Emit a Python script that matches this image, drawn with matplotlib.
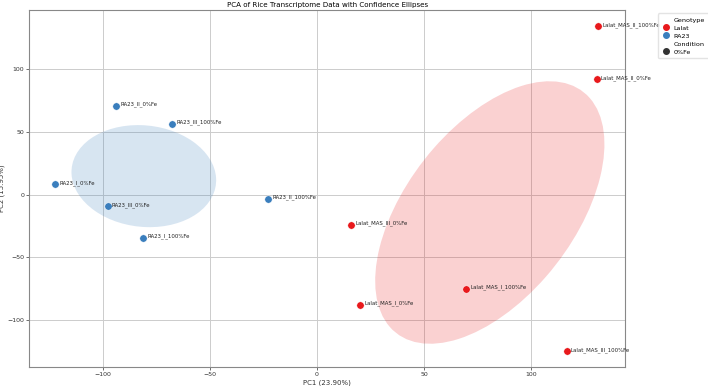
import matplotlib
matplotlib.use("Agg")
import matplotlib.pyplot as plt
import matplotlib.transforms as transforms
from matplotlib.lines import Line2D
from matplotlib.patches import Ellipse
import numpy as np

# PCA scores
SAMPLES = [
    "RA23_II_0%Fe", "RA23_III_100%Fe", "RA23_I_0%Fe",
    "RA23_II_100%Fe", "RA23_III_0%Fe", "RA23_I_100%Fe",
    "Lalat_MAS_III_0%Fe", "Lalat_MAS_I_100%Fe", "Lalat_MAS_I_0%Fe",
    "Lalat_MAS_III_100%Fe", "Lalat_MAS_II_100%Fe", "Lalat_MAS_II_0%Fe",
]
GENOTYPE = ["RA23"] * 6 + ["Lalat"] * 6
PC1 = [-93.8, -67.6, -122.1, -22.8, -97.7, -81.0,
       15.9, 69.6, 20.1, 116.5, 131.2, 130.5]
PC2 = [71.1, 56.5, 8.4, -3.3, -9.4, -34.4,
       -23.8, -75.1, -87.8, -124.8, 134.4, 91.9]

PC1_VAR = 23.90
PC2_VAR = 15.95

COLORS = {"Lalat": "#e8191c", "RA23": "#3a7ebd"}


def confidence_ellipse(x, y, ax, n_std=1.0, **kwargs):
    cov = np.cov(x, y)
    pearson = cov[0, 1] / np.sqrt(cov[0, 0] * cov[1, 1])
    rx = np.sqrt(1 + pearson)
    ry = np.sqrt(1 - pearson)
    ell = Ellipse((0, 0), width=rx * 2, height=ry * 2, **kwargs)
    sx = np.sqrt(cov[0, 0]) * n_std
    sy = np.sqrt(cov[1, 1]) * n_std
    tr = (transforms.Affine2D().rotate_deg(45).scale(sx, sy)
          .translate(np.mean(x), np.mean(y)))
    ell.set_transform(tr + ax.transData)
    return ax.add_patch(ell)


def main() -> None:
    plt.rcParams["font.family"] = "DejaVu Sans"
    fig = plt.figure(figsize=(7.08, 3.86), dpi=100)
    ax = fig.add_axes([0.041, 0.049, 0.842, 0.925])

    pc1 = np.array(PC1)
    pc2 = np.array(PC2)
    geno = np.array(GENOTYPE)

    for g in ["Lalat", "RA23"]:
        m = geno == g
        confidence_ellipse(pc1[m], pc2[m], ax, n_std=1.0,
                           facecolor=COLORS[g], alpha=0.2, edgecolor="none",
                           zorder=1)
        ax.scatter(pc1[m], pc2[m], s=28, color=COLORS[g], zorder=3,
                   edgecolor="white", linewidth=0.3)

    for name, x, y in zip(SAMPLES, PC1, PC2):
        ax.text(x + 2, y + 1.2, name, fontsize=3.9, va="center", ha="left",
                color="#222222", zorder=4)

    ax.set_xlim(-134.4, 143.8)
    ax.set_ylim(-137.5, 147.3)
    ax.set_xticks([-100, -50, 0, 50, 100])
    ax.set_yticks([-100, -50, 0, 50, 100])
    ax.tick_params(labelsize=4.5, length=2, width=0.5, pad=1.5,
                   colors="#333333")
    ax.grid(True, color="#cccccc", linewidth=0.7)
    ax.set_axisbelow(True)
    for sp in ax.spines.values():
        sp.set_color("#888888")
        sp.set_linewidth(0.8)

    ax.set_xlabel(f"PC1 ({PC1_VAR:.2f}%)", fontsize=5, labelpad=1.5,
                  color="#333333")
    ax.set_ylabel(f"PC2 ({PC2_VAR:.2f}%)", fontsize=5, labelpad=1.5,
                  color="#333333")
    ax.set_title("PCA of Rice Transcriptome Data with Confidence Ellipses",
                 fontsize=5.1, pad=2)

    blank = Line2D([], [], linestyle="none", marker="")
    handles = [
        blank,
        Line2D([], [], linestyle="none", marker="o", markersize=4,
               color=COLORS["Lalat"]),
        Line2D([], [], linestyle="none", marker="o", markersize=4,
               color=COLORS["RA23"]),
        blank,
        Line2D([], [], linestyle="none", marker="o", markersize=4,
               color="#333333"),
    ]
    labels = ["Genotype", "Lalat", "RA23", "Condition", "0%Fe"]
    ax.legend(handles, labels, loc="upper left", bbox_to_anchor=(1.05, 1.0),
              fontsize=4.6, handletextpad=0.6, borderpad=0.6,
              labelspacing=0.4, handlelength=1.2, framealpha=0.8,
              edgecolor="#dddddd")

    fig.savefig("out.png", dpi=100)


if __name__ == "__main__":
    main()
